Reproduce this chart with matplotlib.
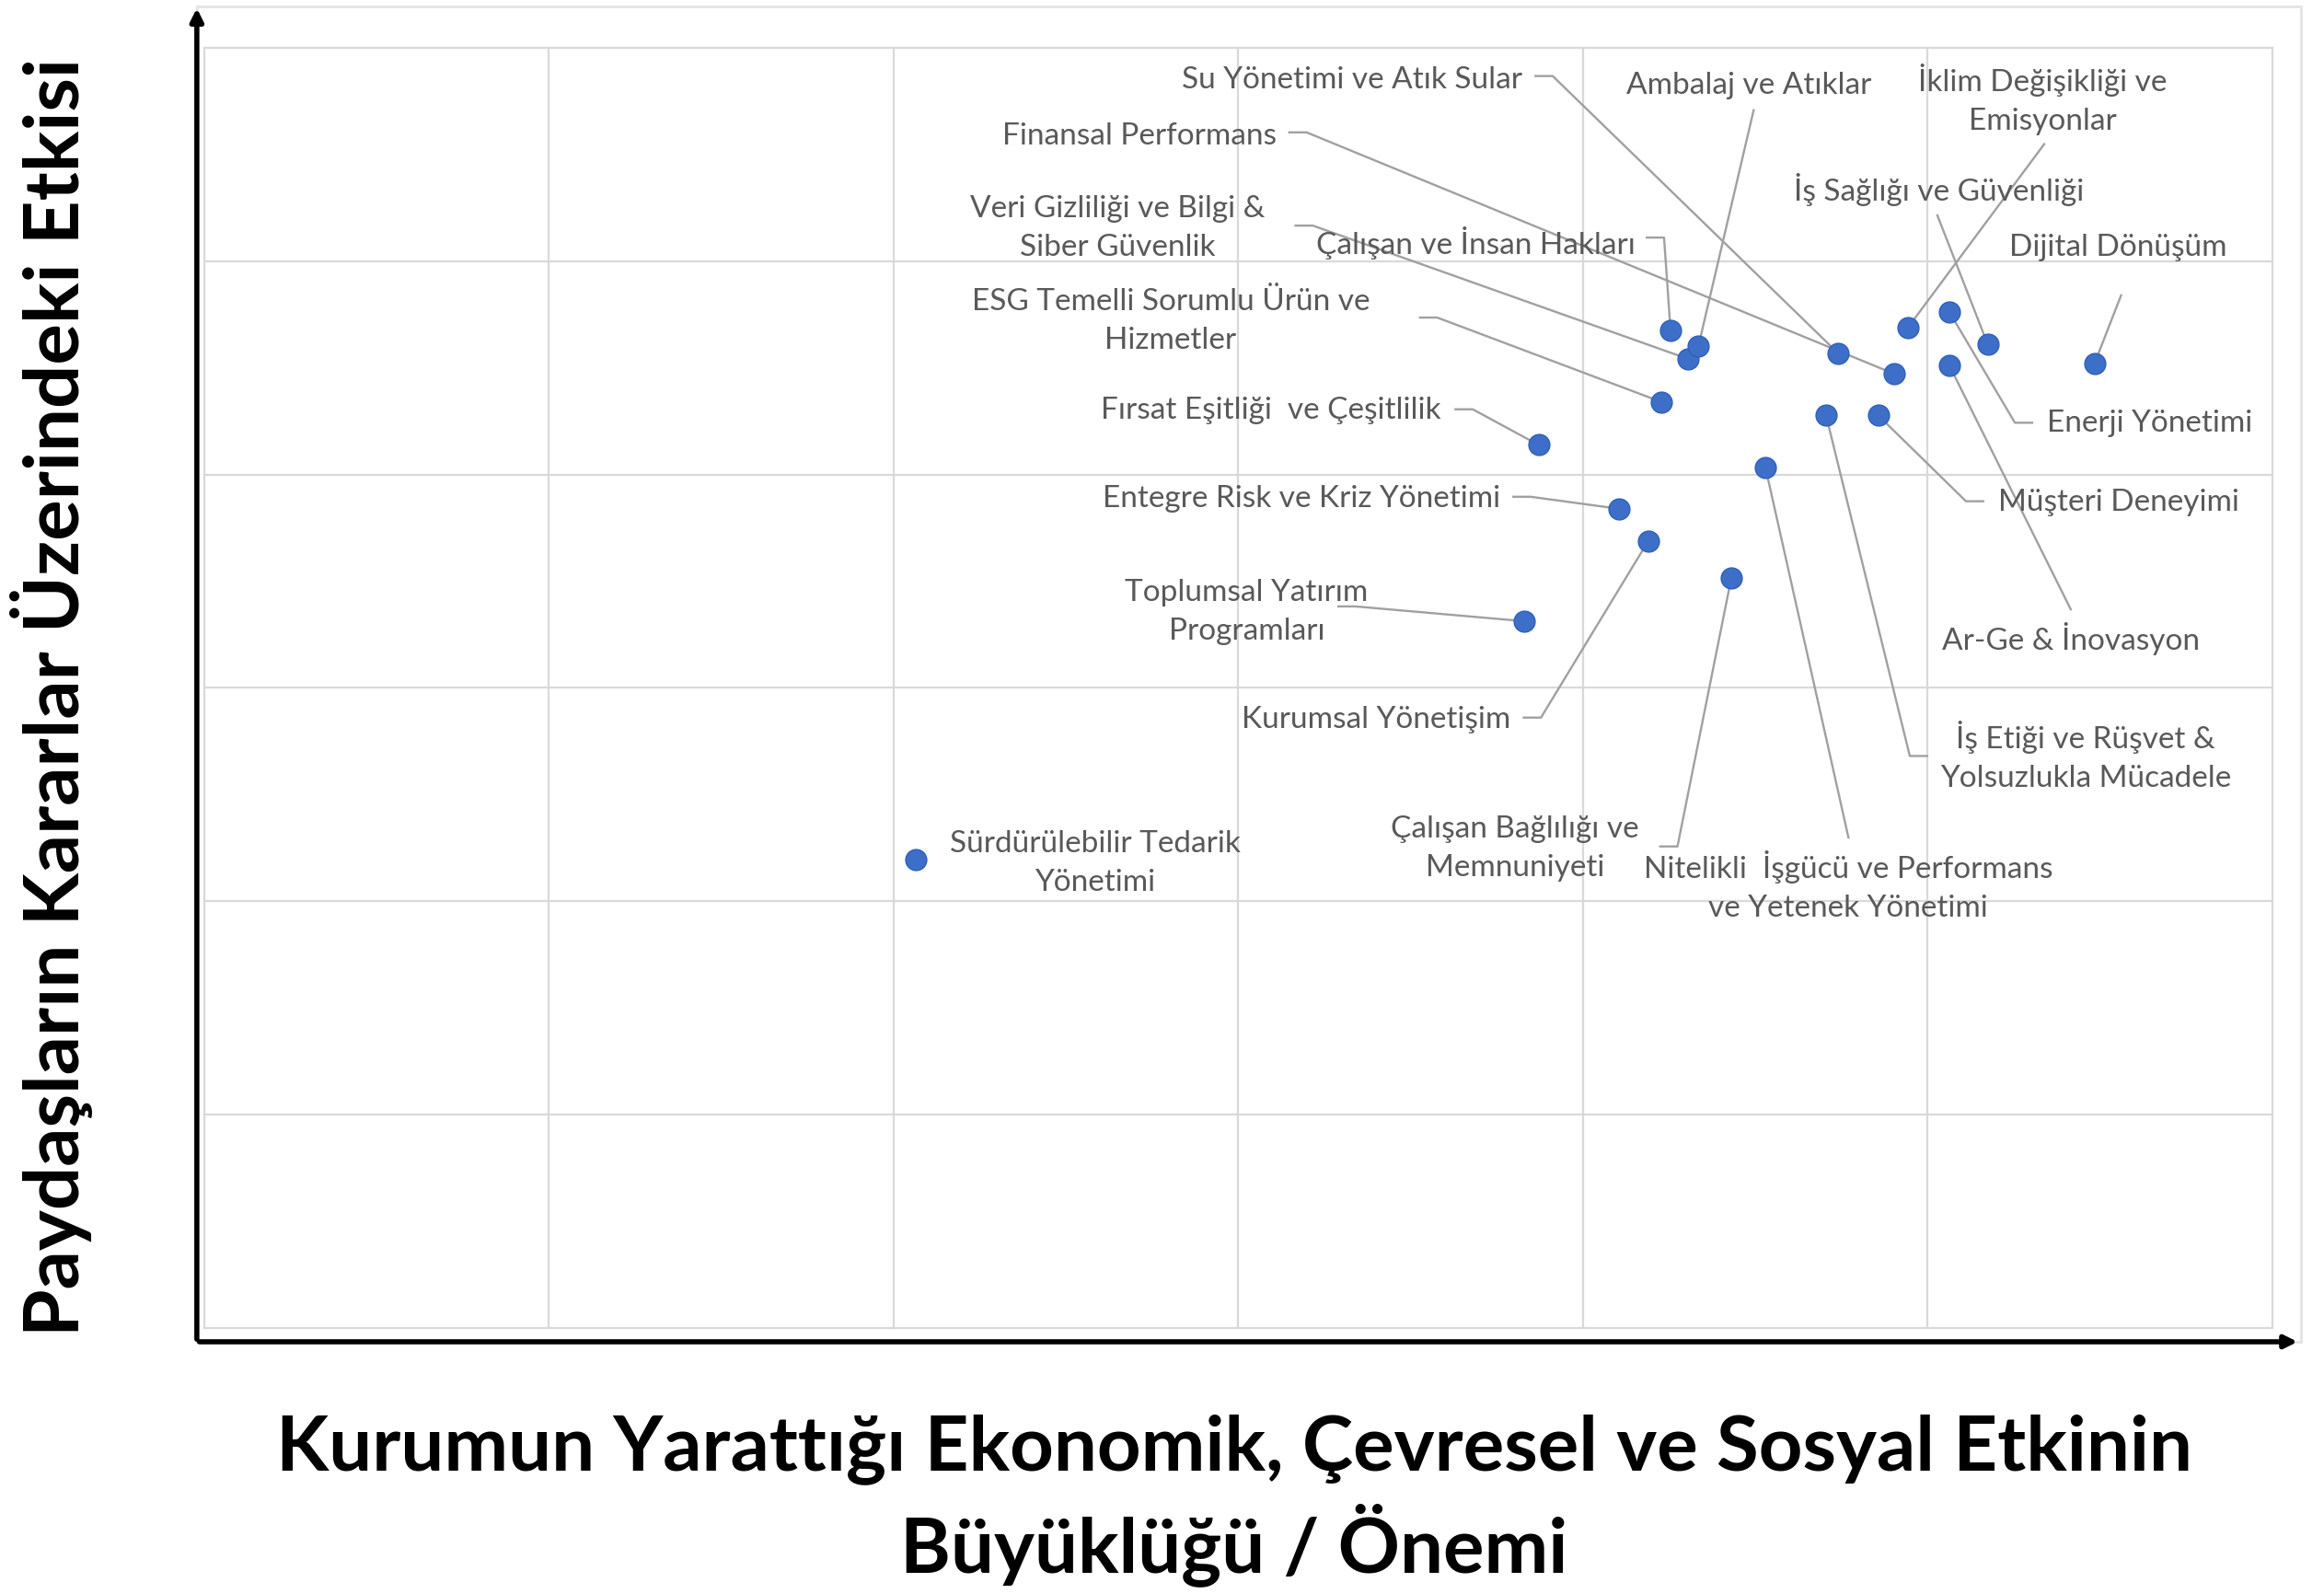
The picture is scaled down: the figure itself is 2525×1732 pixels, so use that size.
import matplotlib.pyplot as plt
from matplotlib.patches import Rectangle

plt.rcParams['font.family'] = ['Lato', 'DejaVu Sans']

# topics, impact (x) and stakeholder influence (y)
topics = [
    "Sürdürülebilir Tedarik\nYönetimi",
    "Toplumsal Yatırım\nProgramları",
    "Fırsat Eşitliği  ve Çeşitlilik",
    "Entegre Risk ve Kriz Yönetimi",
    "Kurumsal Yönetişim",
    "ESG Temelli Sorumlu Ürün ve\nHizmetler",
    "Çalışan ve İnsan Hakları",
    "Veri Gizliliği ve Bilgi &\nSiber Güvenlik",
    "Ambalaj ve Atıklar",
    "Çalışan Bağlılığı ve\nMemnuniyeti",
    "Nitelikli  İşgücü ve Performans\nve Yetenek Yönetimi",
    "İş Etiği ve Rüşvet &\nYolsuzlukla Mücadele",
    "Su Yönetimi ve Atık Sular",
    "Müşteri Deneyimi",
    "Finansal Performans",
    "İklim Değişikliği ve\nEmisyonlar",
    "Enerji Yönetimi",
    "İş Sağlığı ve Güvenliği",
    "Ar-Ge & İnovasyon",
    "Dijital Dönüşüm",
]
impact = [2.065, 3.828, 3.871, 4.103, 4.189, 4.228, 4.254, 4.305, 4.335, 4.430,
          4.529, 4.705, 4.740, 4.856, 4.903, 4.942, 5.062, 5.174, 5.062, 5.484]
influence = [2.194, 3.313, 4.139, 3.840, 3.688, 4.340, 4.674, 4.542, 4.604, 3.514,
             4.035, 4.278, 4.569, 4.278, 4.472, 4.688, 4.764, 4.611, 4.514, 4.521]

# label layout: text position, alignment, leader start, stub direction
lab_x = [2.585, 3.024, 3.587, 3.759, 3.789, 2.804, 4.151, 2.649, 4.482, 3.802,
         4.770, 5.458, 3.824, 5.204, 3.110, 5.333, 5.346, 5.032, 5.415, 5.553]
lab_y = [2.181, 3.361, 4.306, 3.889, 2.854, 4.722, 5.090, 5.160, 5.826, 2.250,
         2.076, 2.681, 5.854, 3.875, 5.590, 5.764, 4.243, 5.340, 3.236, 5.069]
lab_ha = ['center', 'center', 'right', 'right', 'right', 'center', 'right', 'center',
          'center', 'center', 'center', 'center', 'right', 'left', 'right', 'center',
          'left', 'center', 'center', 'center']
lead_x = [None, 3.290, 3.630, 3.798, 3.828, 3.527, 4.185, 3.166, 4.495, 4.224,
          4.770, 4.998, 3.862, 5.161, 3.148, 5.338, 5.303, 5.028, 5.415, 5.561]
lead_y = [None, 3.382, 4.306, 3.896, 2.861, 4.736, 5.111, 5.167, 5.708, 2.257,
          2.299, 2.681, 5.868, 3.875, 5.604, 5.549, 4.243, 5.215, 3.368, 4.840]
stub = [0, 1, 1, 1, 1, 1, 1, 1, 0, 1, 0, -1, 1, -1, 1, 0, -1, 0, 0, 0]

fig = plt.figure(figsize=(25.25, 17.33), dpi=100)
ax = fig.add_axes([0.0879, 0.1668, 0.8899, 0.8026])

ax.set_xlim(0, 6)
ax.set_ylim(0, 6)
ax.set_xticks(range(7))
ax.set_yticks(range(7))
ax.tick_params(length=0, labelbottom=False, labelleft=False)
for s in ax.spines.values():
    s.set_visible(False)
ax.grid(True, color='#d9d9d9', lw=1.6)
for gl in ax.get_xgridlines() + ax.get_ygridlines():
    gl.set_clip_on(False)

# leader lines
for i in range(len(topics)):
    if lead_x[i] is None:
        continue
    sx = lead_x[i] + 0.05 * stub[i]
    ax.plot([lead_x[i], sx, impact[i]], [lead_y[i], lead_y[i], influence[i]],
            color='#a0a0a0', lw=1.7, zorder=3)

ax.scatter(impact, influence, s=270, color='#3d6fc9', edgecolor='#2f5fb8',
           linewidth=1, zorder=5)

for i, t in enumerate(topics):
    ax.text(lab_x[i], lab_y[i], t, ha=lab_ha[i], va='center', fontsize=24,
            color='#595959', linespacing=1.5, zorder=4)

# outer chart frame and axis arrows
ax.add_patch(Rectangle((-0.0036, -0.0108), 1.0174, 1.0432, transform=ax.transAxes,
                       fill=False, edgecolor='#e3e3e3', lw=2, clip_on=False))
ax.annotate('', xy=(-0.0036, 1.033), xytext=(-0.0036, -0.0108), xycoords='axes fraction',
            arrowprops=dict(arrowstyle='-|>,head_length=0.8,head_width=0.4', color='black', lw=4),
            annotation_clip=False)
ax.annotate('', xy=(1.0134, -0.0108), xytext=(-0.0036, -0.0108), xycoords='axes fraction',
            arrowprops=dict(arrowstyle='-|>,head_length=0.8,head_width=0.4', color='black', lw=4),
            annotation_clip=False)

fig.text(0.531, 0.0594, "Kurumun Yarattığı Ekonomik, Çevresel ve Sosyal Etkinin\nBüyüklüğü / Önemi",
         ha='center', va='center', fontsize=60, fontweight='bold', color='black', linespacing=1.27)
fig.text(0.022, 0.563, "Paydaşların Kararlar Üzerindeki Etkisi", rotation=90,
         ha='center', va='center', fontsize=60, fontweight='bold', color='black')

fig.savefig('out.png', dpi=100)
